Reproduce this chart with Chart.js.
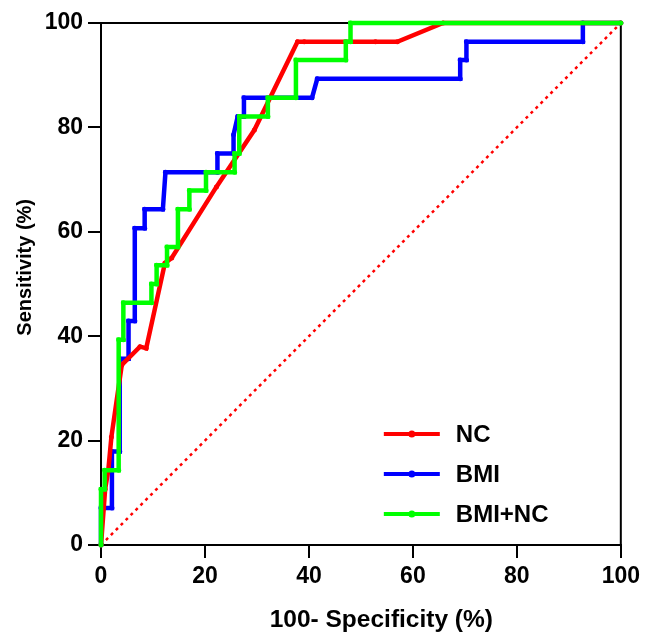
<!DOCTYPE html>
<html>
<head>
<meta charset="utf-8">
<script src="https://cdn.jsdelivr.net/npm/chart.js@4.4.1/dist/chart.umd.min.js"></script>
<style>
  body { margin: 0; background: #fff; }
</style>
</head>
<body>
<canvas id="roc" width="645" height="635"></canvas>
<script>
// axis ticks (both axes, %)
const axisTicks = [0, 20, 40, 60, 80, 100];

// NC
const ncX = [0, 0.8, 1.4, 2.0, 4.0, 7.5, 8.7, 12.3, 13.6, 22.2, 29.5, 37.8, 39.1, 52.8, 57.0, 65.8, 100];
const ncY = [0, 10.7, 14.3, 20.7, 34.5, 38.0, 37.7, 54.0, 55.0, 68.6, 79.5, 96.4, 96.4, 96.4, 96.4, 100, 100];

// BMI
const bmiX = [0, 0, 2.1, 2.1, 3.6, 3.6, 5.3, 5.3, 6.5, 6.5, 8.4, 8.4, 11.9, 12.4, 22.4, 22.4, 25.5, 25.5, 26.3, 27.5, 27.5, 40.6, 41.6, 69.1, 69.1, 70.3, 70.3, 92.7, 92.7, 100];
const bmiY = [0, 7.1, 7.1, 17.9, 17.9, 35.7, 35.7, 42.9, 42.9, 60.7, 60.7, 64.3, 64.3, 71.4, 71.4, 75.0, 75.0, 78.6, 82.1, 82.1, 85.7, 85.7, 89.3, 89.3, 92.9, 92.9, 96.4, 96.4, 100, 100];

// BMI+NC
const bothX = [0, 0, 0.7, 0.7, 3.4, 3.4, 4.3, 4.3, 9.7, 9.7, 10.7, 10.7, 12.7, 12.7, 14.8, 14.8, 17.0, 17.0, 20.2, 20.2, 25.7, 25.7, 26.6, 26.6, 32.1, 32.1, 37.5, 37.5, 47.1, 47.1, 48.0, 48.0, 100];
const bothY = [0, 10.7, 10.7, 14.3, 14.3, 39.3, 39.3, 46.4, 46.4, 50.0, 50.0, 53.6, 53.6, 57.1, 57.1, 64.3, 64.3, 67.9, 67.9, 71.4, 71.4, 75.0, 75.0, 82.1, 82.1, 85.7, 85.7, 92.9, 92.9, 96.4, 96.4, 100, 100];

// reference line
const refX = [0, 100];
const refY = [0, 100];

const family = '"Liberation Sans", Arial, sans-serif';
const toPoints = (xs, ys) => xs.map((x, i) => ({ x: x, y: ys[i] }));

const frame = {
    id: 'frame',
    beforeDatasetsDraw(chart) {
        const { ctx, chartArea: a } = chart;
        ctx.save();
        ctx.strokeStyle = '#000';
        ctx.lineWidth = 2;
        ctx.beginPath();
        ctx.moveTo(a.left, a.top);
        ctx.lineTo(a.right, a.top);
        ctx.lineTo(a.right, a.bottom);
        ctx.stroke();
        ctx.restore();
    }
};

// legend sits inside the plot, bottom right
const insideLegend = {
    id: 'insideLegend',
    afterDatasetsDraw(chart) {
        const { ctx, chartArea: a } = chart;
        ctx.save();
        ctx.font = 'bold 24px ' + family;
        ctx.textBaseline = 'middle';
        [0, 1, 2].forEach((idx, i) => {
            const ds = chart.data.datasets[idx];
            const y = a.bottom - 111 + i * 40;
            const x0 = a.right - 237, x1 = a.right - 181;
            ctx.strokeStyle = ds.borderColor;
            ctx.lineWidth = 4;
            ctx.beginPath();
            ctx.moveTo(x0, y);
            ctx.lineTo(x1, y);
            ctx.stroke();
            ctx.fillStyle = ds.borderColor;
            ctx.beginPath();
            ctx.arc((x0 + x1) / 2, y, 3.5, 0, Math.PI * 2);
            ctx.fill();
            ctx.fillStyle = '#000';
            ctx.fillText(ds.label, a.right - 165, y + 1);
        });
        ctx.restore();
    }
};

const lineStyle = (color) => ({
    borderColor: color,
    backgroundColor: color,
    borderWidth: 4.5,
    pointRadius: 2.5,
    pointBorderWidth: 0,
    pointBackgroundColor: color,
    tension: 0,
    fill: false,
    clip: false
});

const axis = (titleText, titleSize, isX) => ({
    type: 'linear',
    min: 0,
    max: 100,
    afterBuildTicks: s => { s.ticks = axisTicks.map(v => ({ value: v })); },
    afterFit: s => {
        if (isX)
            s.height = 90;
        else
            s.width = 101;
    },
    grid: { drawOnChartArea: false, color: '#000', lineWidth: 2, tickLength: 13 },
    border: { color: '#000', width: 2 },
    ticks: { color: '#000', font: { family: family, size: 23, weight: 'bold' }, padding: isX ? 5 : 5, maxRotation: 0 },
    title: {
        display: true,
        text: titleText,
        color: '#000',
        font: { family: family, size: titleSize, weight: 'bold' },
        padding: isX ? { top: 0, bottom: 0 } : { top: 13, bottom: 0 }
    }
});

new Chart(document.getElementById('roc'), {
    type: 'line',
    data: {
        datasets: [
            { label: 'NC', data: toPoints(ncX, ncY), order: 1, ...lineStyle('#ff0000') },
            { label: 'BMI', data: toPoints(bmiX, bmiY), order: 2, ...lineStyle('#0000ff') },
            { label: 'BMI+NC', data: toPoints(bothX, bothY), order: 0, ...lineStyle('#00ff00') },
            {
                label: 'Reference', data: toPoints(refX, refY), order: 3,
                borderColor: '#ff0000', borderWidth: 2.5, borderDash: [3, 4],
                pointRadius: 0, fill: false
            }
        ]
    },
    options: {
        responsive: false,
        devicePixelRatio: 1,
        animation: false,
        layout: { padding: { left: 0, right: 22, top: 23, bottom: 0 } },
        plugins: { legend: { display: false }, tooltip: { enabled: false } },
        scales: {
            x: axis('      100- Specificity (%)', 24.5, true),
            y: axis('      Sensitivity (%)', 20, false)
        }
    },
    plugins: [frame, insideLegend]
});
</script>
</body>
</html>
